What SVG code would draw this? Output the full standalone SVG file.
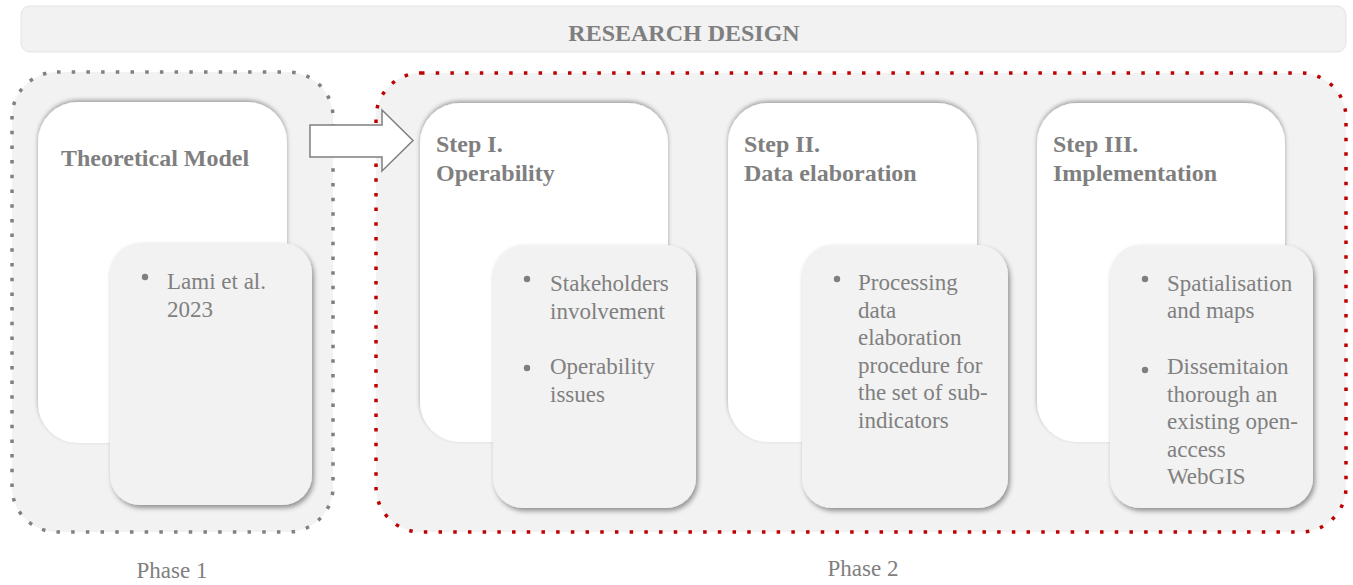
<svg xmlns="http://www.w3.org/2000/svg" width="1353" height="585" viewBox="0 0 1353 585">
<defs>
<filter id="shTop" x="-10%" y="-10%" width="120%" height="120%">
<feDropShadow dx="0" dy="-2" stdDeviation="2" flood-color="#000" flood-opacity="0.35"/>
</filter>
<filter id="shBR" x="-10%" y="-10%" width="125%" height="125%">
<feDropShadow dx="2" dy="3" stdDeviation="2.5" flood-color="#000" flood-opacity="0.4"/>
</filter>
</defs>
<style>
.banner{fill:#f2f2f2;stroke:#e3e3e3;stroke-width:1}
.phase{fill:#f2f2f2;stroke-width:3.5;stroke-dasharray:3.5 11.2}
.p1{stroke:#808080}
.p2{stroke:#c00000}
.card{fill:#ffffff;filter:url(#shTop)}
.inner{fill:#f2f2f2;filter:url(#shBR)}
.title{font-family:"Liberation Serif","Times New Roman",serif;font-weight:bold;font-size:24px;fill:#7f7f7f}
.body{font-family:"Liberation Serif","Times New Roman",serif;font-size:23px;fill:#808080}
.dot{fill:#7f7f7f}
.arrow{fill:#ffffff;stroke:#7f7f7f;stroke-width:1.5}
</style>
<rect x="0" y="0" width="1353" height="585" fill="#ffffff"/>

<g id="banner">
<rect class="banner" x="21" y="6" width="1325" height="46" rx="9"/>
<text class="title" x="684" y="41" text-anchor="middle">RESEARCH DESIGN</text>
</g>

<g id="phase1">
<rect class="phase p1" x="12" y="72" width="321" height="460" rx="45"/>
<text class="body" x="172" y="578" text-anchor="middle">Phase 1</text>
</g>

<g id="phase2">
<rect class="phase p2" x="376" y="73" width="970" height="459" rx="45"/>
<text class="body" x="863" y="576" text-anchor="middle">Phase 2</text>
</g>

<g id="theoretical-model">
<rect class="card" x="38" y="102" width="249" height="341" rx="40"/>
<text class="title" x="61" y="166">Theoretical Model</text>
<rect class="inner" x="110" y="243" width="202" height="262" rx="30"/>
<circle class="dot" cx="145" cy="277" r="3.2"/>
<text class="body" x="167" y="289">Lami  et al.</text>
<text class="body" x="167" y="317">2023</text>
</g>

<g id="step1">
<rect class="card" x="420" y="103" width="248" height="339" rx="40"/>
<text class="title" x="436" y="152">Step I.</text>
<text class="title" x="436" y="181">Operability</text>
<rect class="inner" x="493" y="245" width="203" height="263" rx="30"/>
<circle class="dot" cx="527" cy="279" r="3.2"/>
<text class="body" x="550" y="291">Stakeholders</text>
<text class="body" x="550" y="318.5">involvement</text>
<circle class="dot" cx="527" cy="368" r="3.2"/>
<text class="body" x="550" y="374">Operability</text>
<text class="body" x="550" y="401.5">issues</text>
</g>

<g id="step2">
<rect class="card" x="728" y="103" width="249" height="339" rx="40"/>
<text class="title" x="744" y="152">Step II.</text>
<text class="title" x="744" y="181">Data elaboration</text>
<rect class="inner" x="802" y="245" width="206" height="263" rx="30"/>
<circle class="dot" cx="837" cy="279" r="3.2"/>
<text class="body" x="858" y="290">Processing</text>
<text class="body" x="858" y="317.5">data</text>
<text class="body" x="858" y="345">elaboration</text>
<text class="body" x="858" y="372.5">procedure for</text>
<text class="body" x="858" y="400">the set of sub-</text>
<text class="body" x="858" y="427.5">indicators</text>
</g>

<g id="step3">
<rect class="card" x="1037" y="103" width="248" height="339" rx="40"/>
<text class="title" x="1053" y="152">Step III.</text>
<text class="title" x="1053" y="181">Implementation</text>
<rect class="inner" x="1110" y="245" width="203" height="263" rx="30"/>
<circle class="dot" cx="1145" cy="279" r="3.2"/>
<text class="body" x="1167" y="291">Spatialisation</text>
<text class="body" x="1167" y="318">and maps</text>
<circle class="dot" cx="1145" cy="370" r="3.2"/>
<text class="body" x="1167" y="374">Dissemitaion</text>
<text class="body" x="1167" y="401.5">thorough an</text>
<text class="body" x="1167" y="429">existing open-</text>
<text class="body" x="1167" y="456.5">access</text>
<text class="body" x="1167" y="484">WebGIS</text>
</g>

<g id="connectors">
<polygon class="arrow" points="310,125 382,125 382,110 413,140.5 382,171 382,157 310,157"/>
</g>
</svg>
